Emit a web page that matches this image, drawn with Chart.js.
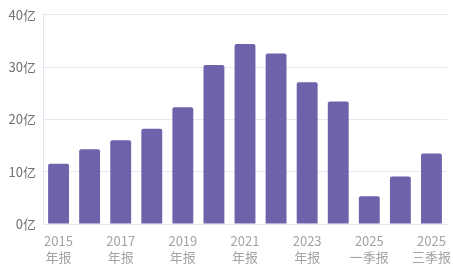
<!DOCTYPE html>
<html><head><meta charset="utf-8">
<script src="https://cdn.jsdelivr.net/npm/chart.js@4/dist/chart.umd.min.js"></script>
<style>html,body{margin:0;padding:0;background:#fff}#w{width:453px;height:269px;position:relative}</style>
</head><body><div id="w"><canvas id="c"></canvas></div>
<script>
const years = ["2015","2016","2017","2018","2019","2020","2021","2022","2023","2024","2025","2025","2025"];
const periods = ["年报","年报","年报","年报","年报","年报","年报","年报","年报","年报","一季报","中报","三季报"];
const values = [11.5,14.3,16.0,18.2,22.3,30.4,34.4,32.6,27.1,23.4,5.3,9.1,13.5];
const yTicks = [0,10,20,30,40];
const labels = years.map((y,i)=>[y,periods[i]]);
new Chart(document.getElementById('c'),{
  type:'bar',
  data:{labels:labels,datasets:[{data:values,backgroundColor:'#6f62ab',borderColor:'#8377bb',borderWidth:0,borderRadius:2,borderSkipped:'bottom',categoryPercentage:0.8,barPercentage:0.84}]},
  options:{responsive:true,maintainAspectRatio:false,animation:false,
    layout:{padding:{top:6,right:6,left:0,bottom:0}},
    plugins:{legend:{display:false},tooltip:{enabled:false}},
    scales:{
      x:{grid:{display:false,drawTicks:false},border:{color:'#e3e6f0'},
        ticks:{color:'#a3a3a3',font:{family:'"Noto Sans CJK SC","Noto Sans",sans-serif',size:13,lineHeight:1.25},maxRotation:0,autoSkip:false,padding:9,
          callback:function(v,i){return i%2===0?labels[i]:'';}},
        afterFit:s=>{s.height=45;s.paddingRight=0;s.paddingLeft=0;}},
      y:{min:0,max:40,grid:{color:'#e6e8f4',drawTicks:false},border:{color:'#e3e6f0'},
        afterBuildTicks:s=>{s.ticks=yTicks.map(v=>({value:v}));},
        ticks:{color:'#707070',font:{family:'"Noto Sans CJK SC","Noto Sans",sans-serif',size:13},padding:7,callback:v=>v+'亿'},
        afterFit:s=>{s.width=43;}}
    }}
});
</script></body></html>
